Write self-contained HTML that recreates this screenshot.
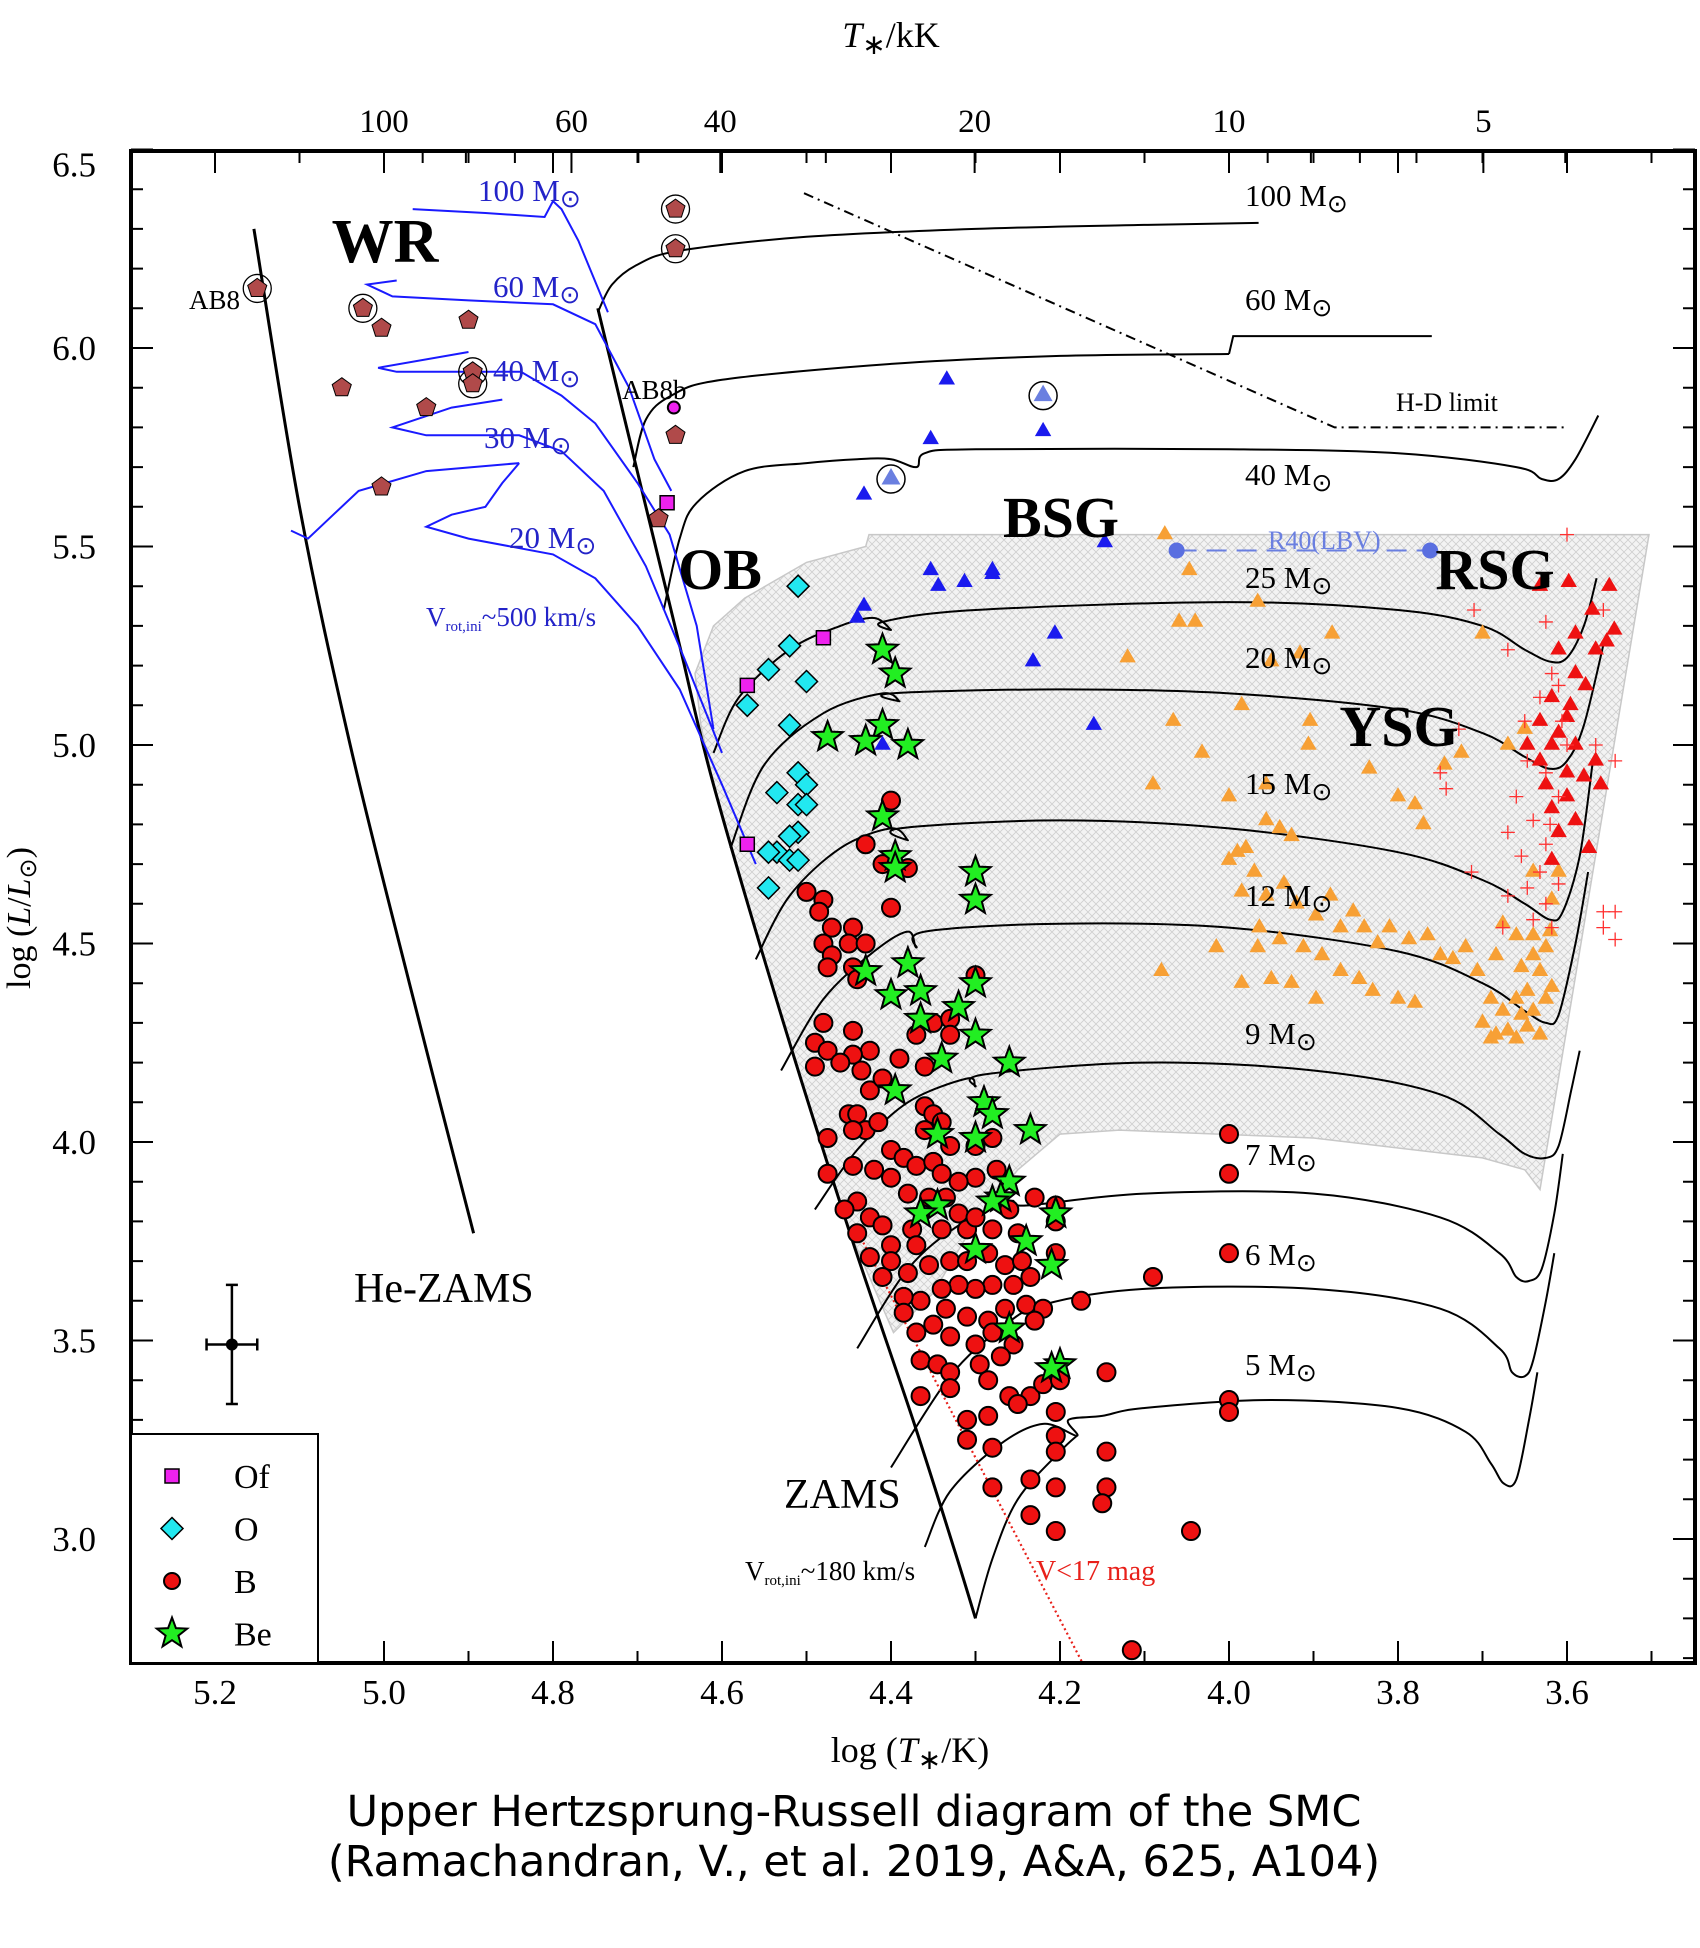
<!DOCTYPE html>
<html><head><meta charset="utf-8"><title>HRD SMC</title>
<style>
html,body{margin:0;padding:0;background:#fff;}
svg{display:block;}
text{font-family:"Liberation Serif",serif;}
.cap{font-family:"DejaVu Sans","Liberation Sans",sans-serif;}
</style></head>
<body>
<svg id="chart" width="1700" height="1948" viewBox="0 0 1700 1948" xmlns="http://www.w3.org/2000/svg">
<defs>
<pattern id="hatch" width="8" height="8" patternUnits="userSpaceOnUse">
<rect width="8" height="8" fill="#f3f3f3"/>
<path d="M0,0 L8,8 M8,0 L0,8" stroke="#cfcfcf" stroke-width="0.8"/>
</pattern>
<clipPath id="plotclip"><rect x="131" y="151" width="1564" height="1512"/></clipPath>
</defs>
<g id="hatchLayer" clip-path="url(#plotclip)"></g>
<g id="lines" clip-path="url(#plotclip)"></g>
<g id="marks" clip-path="url(#plotclip)"></g>
<g id="axes"></g>
<g id="labels">
<text x="891" y="47" font-size="36" text-anchor="middle"><tspan font-style="italic">T</tspan><tspan font-size="28" baseline-shift="-25%">∗</tspan>/kK</text>
<text x="910" y="1762" font-size="36" text-anchor="middle">log (<tspan font-style="italic">T</tspan><tspan font-size="28" baseline-shift="-25%">∗</tspan>/K)</text>
<text transform="translate(30,918) rotate(-90)" font-size="34" text-anchor="middle">log (<tspan font-style="italic">L</tspan>/<tspan font-style="italic">L</tspan><tspan font-size="24" baseline-shift="-25%">⊙</tspan>)</text>
<text class="cap" x="854" y="1826" font-size="43" text-anchor="middle">Upper Hertzsprung-Russell diagram of the SMC</text>
<text class="cap" x="854" y="1876" font-size="43" text-anchor="middle">(Ramachandran, V., et al. 2019, A&amp;A, 625, A104)</text>
<text x="385" y="262" font-size="62" font-weight="bold" text-anchor="middle">WR</text>
<text x="720" y="589" font-size="58" font-weight="bold" text-anchor="middle">OB</text>
<text x="1061" y="537" font-size="58" font-weight="bold" text-anchor="middle">BSG</text>
<text x="1495" y="589" font-size="58" font-weight="bold" text-anchor="middle">RSG</text>
<text x="1399" y="746" font-size="58" font-weight="bold" text-anchor="middle">YSG</text>
<g font-size="31">
<text x="1245" y="206">100 M<tspan font-size="25" baseline-shift="-25%">⊙</tspan></text>
<text x="1245" y="310">60 M<tspan font-size="25" baseline-shift="-25%">⊙</tspan></text>
<text x="1245" y="485">40 M<tspan font-size="25" baseline-shift="-25%">⊙</tspan></text>
<text x="1245" y="588">25 M<tspan font-size="25" baseline-shift="-25%">⊙</tspan></text>
<text x="1245" y="668">20 M<tspan font-size="25" baseline-shift="-25%">⊙</tspan></text>
<text x="1245" y="794">15 M<tspan font-size="25" baseline-shift="-25%">⊙</tspan></text>
<text x="1245" y="906">12 M<tspan font-size="25" baseline-shift="-25%">⊙</tspan></text>
<text x="1245" y="1044">9 M<tspan font-size="25" baseline-shift="-25%">⊙</tspan></text>
<text x="1245" y="1165">7 M<tspan font-size="25" baseline-shift="-25%">⊙</tspan></text>
<text x="1245" y="1265">6 M<tspan font-size="25" baseline-shift="-25%">⊙</tspan></text>
<text x="1245" y="1375">5 M<tspan font-size="25" baseline-shift="-25%">⊙</tspan></text>
</g>
<g font-size="31" fill="#2323c8">
<text x="478" y="201">100 M<tspan font-size="25" baseline-shift="-25%">⊙</tspan></text>
<text x="493" y="297">60 M<tspan font-size="25" baseline-shift="-25%">⊙</tspan></text>
<text x="493" y="381">40 M<tspan font-size="25" baseline-shift="-25%">⊙</tspan></text>
<text x="484" y="448">30 M<tspan font-size="25" baseline-shift="-25%">⊙</tspan></text>
<text x="509" y="548">20 M<tspan font-size="25" baseline-shift="-25%">⊙</tspan></text>
<text x="426" y="626" font-size="27">V<tspan font-size="15" baseline-shift="-30%">rot,ini</tspan>~500 km/s</text>
</g>
<text x="354" y="1302" font-size="42">He-ZAMS</text>
<text x="784" y="1508" font-size="42">ZAMS</text>
<text x="745" y="1580" font-size="27">V<tspan font-size="15" baseline-shift="-30%">rot,ini</tspan>~180 km/s</text>
<text x="1036" y="1580" font-size="28" fill="#e8201a">V&lt;17 mag</text>
<text x="240" y="309" font-size="27" text-anchor="end">AB8</text>
<text x="622" y="399" font-size="27">AB8b</text>
<text x="1396" y="411" font-size="26">H-D limit</text>
<text x="1268" y="549" font-size="26" fill="#6a7fe0">R40(LBV)</text>
</g>
<g id="legend">
<rect x="131" y="1434" width="187" height="229" fill="#fff" stroke="#000" stroke-width="2"/>
</g>
</svg>
<script>
// ---- data (log T, log L) ----
const xTicksMajor = [5.2, 5.0, 4.8, 4.6, 4.4, 4.2, 4.0, 3.8, 3.6];
const yTicksMajor = [3.0, 3.5, 4.0, 4.5, 5.0, 5.5, 6.0, 6.5];
const topTicksKK = [100, 60, 40, 20, 10, 5];
const topMinorKK = [90, 80, 70, 50, 30, 9, 8, 7, 6, 4];

const starsB = [[4.40,4.86],[4.50,4.63],[4.48,4.61],[4.485,4.58],[4.47,4.54],[4.445,4.54],[4.45,4.50],[4.48,4.50],[4.47,4.47],[4.475,4.44],[4.43,4.50],[4.40,4.59],[4.445,4.44],[4.44,4.41],[4.38,4.69],[4.43,4.75],[4.41,4.70],[4.30,4.42],
[4.48,4.30],[4.49,4.25],[4.475,4.23],[4.49,4.19],[4.445,4.28],[4.425,4.23],[4.445,4.22],[4.46,4.20],[4.435,4.18],[4.425,4.13],[4.41,4.16],[4.39,4.21],[4.37,4.27],[4.35,4.30],[4.33,4.31],[4.33,4.27],[4.36,4.19],[4.45,4.07],[4.44,4.07],[4.43,4.03],[4.445,4.03],[4.415,4.05],[4.475,4.01],[4.475,3.92],[4.445,3.94],[4.42,3.93],[4.40,3.98],[4.36,4.09],[4.35,4.07],[4.36,4.03],[4.34,4.05],[4.385,3.96],[4.37,3.94],[4.35,3.95],[4.34,3.92],[4.33,3.99],[4.30,3.99],[4.28,4.01],[4.275,3.93],[4.30,3.91],[4.32,3.90],[4.40,3.91],[4.38,3.87],[4.355,3.86],[4.335,3.86],[4.44,3.85],[4.455,3.83],[4.425,3.81],[4.41,3.79],[4.44,3.77],[4.40,3.74],[4.375,3.78],[4.37,3.74],[4.34,3.78],[4.32,3.82],[4.31,3.78],[4.30,3.81],[4.28,3.78],[4.26,3.83],[4.25,3.77],[4.23,3.86],[4.205,3.84],[4.205,3.80],[4.205,3.72],
[4.40,3.70],[4.38,3.67],[4.355,3.69],[4.33,3.70],[4.31,3.70],[4.285,3.72],[4.265,3.69],[4.245,3.70],[4.235,3.66],[4.255,3.64],[4.28,3.64],[4.30,3.63],[4.32,3.64],[4.34,3.63],[4.365,3.60],[4.385,3.61],[4.335,3.58],[4.31,3.56],[4.285,3.55],[4.265,3.58],[4.24,3.59],[4.22,3.58],[4.23,3.55],[4.35,3.54],[4.33,3.51],[4.30,3.49],[4.28,3.52],[4.255,3.49],[4.365,3.45],[4.345,3.44],[4.33,3.42],[4.295,3.44],[4.27,3.46],[4.285,3.40],[4.26,3.36],[4.235,3.36],[4.22,3.39],[4.20,3.40],[4.365,3.36],[4.31,3.30],[4.31,3.25],[4.285,3.31],[4.25,3.34],[4.205,3.32],[4.205,3.26],[4.205,3.22],[4.28,3.23],[4.235,3.15],[4.205,3.13],[4.28,3.13],[4.235,3.06],[4.205,3.02],[4.175,3.60],[4.145,3.42],[4.145,3.22],[4.145,3.13],[4.15,3.09],[4.09,3.66],[4.045,3.02],[4.115,2.72],[4.0,4.02],[4.0,3.92],[4.0,3.72],[4.0,3.35],[4.0,3.32],[4.425,3.71],[4.41,3.66],[4.385,3.57],[4.37,3.52],[4.33,3.38]];

const starsBe = [[4.41,5.24],[4.395,5.18],[4.475,5.02],[4.41,5.05],[4.43,5.01],[4.38,5.00],[4.41,4.82],[4.395,4.72],[4.395,4.69],[4.30,4.68],[4.30,4.61],[4.43,4.43],[4.38,4.45],[4.40,4.37],[4.365,4.38],[4.365,4.31],[4.32,4.34],[4.30,4.40],[4.30,4.27],[4.34,4.21],[4.26,4.20],[4.395,4.13],[4.29,4.10],[4.28,4.07],[4.345,4.02],[4.30,4.01],[4.235,4.03],[4.26,3.90],[4.27,3.86],[4.28,3.85],[4.345,3.84],[4.365,3.82],[4.205,3.82],[4.24,3.75],[4.30,3.73],[4.21,3.69],[4.26,3.53],[4.20,3.44],[4.21,3.43]];

const starsO = [[4.51,5.40],[4.52,5.25],[4.545,5.19],[4.57,5.10],[4.50,5.16],[4.52,5.05],[4.51,4.93],[4.50,4.90],[4.535,4.88],[4.51,4.85],[4.50,4.85],[4.51,4.78],[4.52,4.77],[4.535,4.73],[4.545,4.73],[4.52,4.71],[4.51,4.71],[4.545,4.64]];

const starsOf = [[4.665,5.61],[4.57,5.15],[4.48,5.27],[4.57,4.75]];
const starAB8b = [[4.657,5.85]];

const starsWR = [[5.15,6.15],[5.025,6.10],[5.003,6.05],[4.90,6.07],[4.895,5.94],[4.895,5.91],[5.05,5.90],[4.95,5.85],[5.003,5.65],[4.655,6.35],[4.655,6.25],[4.655,5.78],[4.675,5.57]];
const circledWR = [[5.15,6.15],[5.025,6.10],[4.895,5.94],[4.895,5.91],[4.655,6.35],[4.655,6.25]];

const starsBSG = [[4.334,5.92],[4.22,5.88],[4.22,5.79],[4.353,5.77],[4.40,5.67],[4.432,5.63],[4.147,5.51],[4.353,5.44],[4.344,5.40],[4.313,5.41],[4.28,5.44],[4.28,5.43],[4.432,5.35],[4.44,5.32],[4.206,5.28],[4.232,5.21],[4.16,5.05],[4.41,5.00]];
const circledBSG = [[4.22,5.88],[4.40,5.67]];
const lbvR40 = [[4.062,5.49],[3.762,5.49]];

const starsYSG = [[4.076,5.53],[4.047,5.44],[3.966,5.36],[4.059,5.31],[4.04,5.31],[4.12,5.22],[3.916,5.23],[3.878,5.28],[3.95,5.21],[4.066,5.06],[3.985,5.10],[3.904,5.06],[3.834,4.94],[3.906,5.00],[4.09,4.90],[4.032,4.98],[3.80,4.87],[3.78,4.85],[3.77,4.80],[3.745,4.95],[3.725,4.98],[3.70,5.28],[3.67,5.00],[3.65,5.04],[3.99,4.73],[4.0,4.71],[3.98,4.74],[3.956,4.81],[3.94,4.79],[3.926,4.77],[3.97,4.68],[3.985,4.63],[3.956,4.62],[3.935,4.65],[3.92,4.60],[3.897,4.57],[3.88,4.62],[3.868,4.54],[3.853,4.58],[3.84,4.54],[3.824,4.50],[3.81,4.54],[3.787,4.51],[3.765,4.52],[3.75,4.47],[3.735,4.46],[3.72,4.49],[3.964,4.54],[3.94,4.51],[3.912,4.49],[3.89,4.47],[3.868,4.43],[3.846,4.41],[3.83,4.38],[3.80,4.36],[3.78,4.35],[3.926,4.40],[3.95,4.41],[3.897,4.36],[3.706,4.43],[3.684,4.47],[3.676,4.55],[3.66,4.52],[3.654,4.44],[3.64,4.47],[3.632,4.43],[3.625,4.49],[3.69,4.36],[3.676,4.33],[3.66,4.36],[3.647,4.38],[3.70,4.30],[3.684,4.27],[3.67,4.28],[3.654,4.32],[3.64,4.33],[3.632,4.27],[3.69,4.26],[3.66,4.26],[3.647,4.29],[3.625,4.36],[3.618,4.39],[3.62,4.53],[3.618,4.61],[3.61,4.68],[3.64,4.52],[3.64,4.68],[3.956,4.90],[4.0,4.87],[4.08,4.43],[4.015,4.49],[3.985,4.40],[3.966,4.49]];

const starsRSGtri = [[3.598,5.41],[3.55,5.40],[3.632,5.40],[3.57,5.34],[3.544,5.29],[3.59,5.28],[3.566,5.24],[3.61,5.24],[3.59,5.18],[3.578,5.15],[3.618,5.12],[3.596,5.10],[3.60,5.07],[3.632,5.06],[3.61,5.03],[3.618,5.00],[3.59,5.00],[3.632,4.96],[3.60,4.93],[3.58,4.92],[3.625,4.90],[3.60,4.87],[3.618,4.84],[3.59,4.81],[3.61,4.78],[3.574,4.74],[3.618,4.71],[3.566,4.96],[3.56,4.90],[3.647,5.00],[3.553,5.26]];

const starsRSGcross = [[3.60,5.53],[3.557,5.34],[3.71,5.34],[3.67,5.24],[3.625,5.31],[3.618,5.18],[3.61,5.15],[3.632,5.12],[3.606,5.06],[3.647,4.96],[3.625,4.93],[3.66,4.87],[3.61,4.87],[3.64,4.81],[3.67,4.78],[3.625,4.75],[3.654,4.72],[3.632,4.68],[3.61,4.65],[3.647,4.64],[3.67,4.62],[3.625,4.60],[3.64,4.56],[3.676,4.54],[3.618,4.54],[3.557,4.58],[3.543,4.58],[3.557,4.54],[3.543,4.51],[3.543,4.96],[3.566,5.00],[3.713,4.68],[3.743,4.89],[3.75,4.93],[3.728,5.04],[3.65,5.06],[3.60,5.00],[3.62,4.80]];

const errorPoint = [5.18, 3.49];
const errorX = 0.03;
const errorY = 0.15;

// tracks
const zams = [[4.747,6.10],[4.69,5.60],[4.65,5.25],[4.61,4.90],[4.53,4.32],[4.45,3.78],[4.374,3.30],[4.326,2.98],[4.30,2.80]];
const zamsTail = [[4.30,2.80],[4.28,2.95],[4.25,3.10],[4.20,3.22],[4.18,3.26]];
const heZams = [[5.154,6.30],[5.10,5.60],[5.04,5.0],[4.97,4.40],[4.894,3.77]];
const track100 = [[4.747,6.09],[4.73,6.16],[4.70,6.21],[4.65,6.245],[4.5,6.28],[4.3,6.30],[4.1,6.31],[3.965,6.315]];
const track60a = [[4.705,5.70],[4.69,5.82],[4.66,5.88],[4.6,5.92],[4.4,5.96],[4.2,5.98],[4.0,5.985]];
const track60b = [[4.0,5.985],[3.995,6.03],[3.76,6.03]];
const track40 = [[4.669,5.34],[4.65,5.52],[4.63,5.61],[4.573,5.69],[4.5,5.71],[4.44,5.72],[4.40,5.72],[4.37,5.70],[4.36,5.735],[4.3,5.745],[4.0,5.745],[3.8,5.735],[3.66,5.70],[3.63,5.67],[3.61,5.67],[3.59,5.72],[3.563,5.83]];
const track25 = [[4.61,4.98],[4.58,5.12],[4.52,5.24],[4.46,5.30],[4.42,5.32],[4.40,5.29],[4.41,5.31],[4.3,5.34],[4.0,5.36],[3.8,5.34],[3.7,5.30],[3.65,5.24],[3.62,5.21],[3.60,5.22],[3.58,5.30],[3.565,5.42]];
const track20 = [[4.59,4.74],[4.55,4.95],[4.48,5.08],[4.41,5.13],[4.39,5.11],[4.40,5.13],[4.2,5.14],[4.0,5.13],[3.8,5.09],[3.70,5.03],[3.65,4.97],[3.62,4.94],[3.60,4.96],[3.58,5.05],[3.555,5.27]];
const track15 = [[4.56,4.46],[4.52,4.62],[4.46,4.74],[4.40,4.79],[4.38,4.76],[4.39,4.79],[4.2,4.81],[4.0,4.79],[3.8,4.73],[3.70,4.66],[3.65,4.60],[3.62,4.56],[3.605,4.58],[3.585,4.72],[3.57,4.95]];
const track12 = [[4.53,4.18],[4.48,4.36],[4.42,4.48],[4.38,4.53],[4.37,4.49],[4.36,4.53],[4.2,4.55],[4.0,4.54],[3.8,4.48],[3.70,4.40],[3.65,4.33],[3.625,4.30],[3.61,4.32],[3.59,4.50],[3.575,4.68]];
const track9 = [[4.49,3.83],[4.44,3.98],[4.38,4.10],[4.31,4.16],[4.30,4.14],[4.29,4.17],[4.1,4.20],[3.9,4.18],[3.75,4.12],[3.68,4.02],[3.65,3.97],[3.625,3.96],[3.61,3.99],[3.595,4.13],[3.585,4.23]];
const track7 = [[4.44,3.48],[4.38,3.68],[4.32,3.79],[4.26,3.85],[4.24,3.84],[4.1,3.87],[3.9,3.87],[3.75,3.81],[3.68,3.72],[3.66,3.66],[3.645,3.65],[3.63,3.68],[3.615,3.82],[3.605,3.97]];
const track6 = [[4.40,3.18],[4.33,3.41],[4.27,3.53],[4.22,3.59],[4.1,3.63],[3.9,3.63],[3.75,3.58],[3.68,3.48],[3.665,3.42],[3.65,3.41],[3.64,3.45],[3.625,3.60],[3.615,3.72]];
const track5 = [[4.36,2.98],[4.33,3.12],[4.27,3.24],[4.22,3.29],[4.18,3.26],[4.19,3.30],[4.15,3.31],[4.1,3.33],[3.95,3.35],[3.8,3.33],[3.72,3.27],[3.69,3.19],[3.675,3.14],[3.66,3.15],[3.645,3.30],[3.635,3.42]];

const rot100 = [[4.966,6.35],[4.88,6.34],[4.81,6.33],[4.80,6.37],[4.79,6.35],[4.77,6.27],[4.735,6.09]];
const rot60 = [[4.985,6.17],[5.02,6.16],[4.99,6.13],[4.9,6.12],[4.8,6.11],[4.75,6.06],[4.71,5.90],[4.68,5.72],[4.66,5.64]];
const rot40 = [[4.90,5.99],[5.007,5.95],[4.985,5.94],[4.90,5.94],[4.838,5.94],[4.79,5.88],[4.75,5.81],[4.70,5.66],[4.662,5.53],[4.63,5.30],[4.61,5.04]];
const rot30 = [[4.86,5.87],[4.92,5.85],[4.99,5.80],[4.95,5.78],[4.84,5.78],[4.79,5.74],[4.74,5.64],[4.69,5.45],[4.645,5.22],[4.60,4.98]];
const rot20a = [[5.11,5.54],[5.09,5.52],[5.06,5.58],[5.03,5.64],[4.95,5.69],[4.84,5.71]];
const rot20b = [[4.84,5.71],[4.86,5.66],[4.88,5.60],[4.92,5.58],[4.95,5.55],[4.90,5.52],[4.80,5.48],[4.75,5.42],[4.70,5.30],[4.65,5.14],[4.60,4.90],[4.56,4.70]];

const hdLimit = [[4.503,6.39],[3.875,5.80],[3.60,5.80]];
const vLimit = [[4.441,3.78],[4.169,2.67]];
const hatchRegion = [[4.426,5.53],[3.503,5.53],[3.632,3.88],[3.65,3.93],[3.70,3.96],[3.9,4.01],[4.13,4.03],[4.2,4.02],[4.25,3.93],[4.30,3.80],[4.35,3.62],[4.397,3.52],[4.45,3.78],[4.53,4.32],[4.61,4.90],[4.625,5.05],[4.632,5.18],[4.61,5.30],[4.573,5.37],[4.50,5.46],[4.43,5.50]];

// ---- axis functions ----
function X(t){ return 1567 - (t - 3.6) * 845; }
function Y(l){ return 348 - (l - 6.0) * 397; }
const NS = "http://www.w3.org/2000/svg";
function mk(tag, attrs, parent){
  const e = document.createElementNS(NS, tag);
  for (const k in attrs) e.setAttribute(k, attrs[k]);
  parent.appendChild(e);
  return e;
}
const gH = document.getElementById('hatchLayer');
const gL = document.getElementById('lines');
const gM = document.getElementById('marks');
const gA = document.getElementById('axes');
const gLeg = document.getElementById('legend');

function pathD(pts){ return pts.map((p,i)=>(i?'L':'M')+X(p[0]).toFixed(1)+','+Y(p[1]).toFixed(1)).join(' '); }
function smoothD(pts){
  const P = pts.map(p=>[X(p[0]),Y(p[1])]);
  let d = 'M'+P[0][0].toFixed(1)+','+P[0][1].toFixed(1);
  for (let i=0;i<P.length-1;i++){
    const p0=P[i-1]||P[i], p1=P[i], p2=P[i+1], p3=P[i+2]||P[i+1];
    const c1=[p1[0]+(p2[0]-p0[0])/6, p1[1]+(p2[1]-p0[1])/6];
    const c2=[p2[0]-(p3[0]-p1[0])/6, p2[1]-(p3[1]-p1[1])/6];
    d+=' C'+c1[0].toFixed(1)+','+c1[1].toFixed(1)+' '+c2[0].toFixed(1)+','+c2[1].toFixed(1)+' '+p2[0].toFixed(1)+','+p2[1].toFixed(1);
  }
  return d;
}

// hatch
const hr = mk('path', {d: pathD(hatchRegion)+' Z', fill:'url(#hatch)', stroke:'#c8c8c8', 'stroke-width':1.5}, gH);



function drawLine(pts, name, stroke, w, dash, smooth){
  const p = mk('path', {d: smooth ? smoothD(pts) : pathD(pts), fill:'none', stroke: stroke, 'stroke-width': w}, gL);
  if (dash) p.setAttribute('stroke-dasharray', dash);
  
  
  return p;
}
drawLine(zams, 'zams-line', '#000', 3, null, true);
drawLine(zamsTail, 'zams-tail-line', '#000', 2, null, true);
drawLine(heZams, 'he-zams-line', '#000', 3, null, true);
const tracks = [[track100,'track-100'],[track60a,'track-60'],[track40,'track-40'],[track25,'track-25'],[track20,'track-20'],[track15,'track-15'],[track12,'track-12'],[track9,'track-9'],[track7,'track-7'],[track6,'track-6'],[track5,'track-5']];
tracks.forEach(t=>drawLine(t[0], t[1]+'-msun', '#000', 2, null, true));
drawLine(track60b, 'track-60-msun-end', '#000', 2, null, false);
const rtracks = [[rot100,'rot-track-100'],[rot60,'rot-track-60'],[rot40,'rot-track-40'],[rot30,'rot-track-30'],[rot20a,'rot-track-20a'],[rot20b,'rot-track-20b']];
rtracks.forEach(t=>drawLine(t[0], t[1], '#1a1aff', 2, null, false));
drawLine(hdLimit, 'hd-limit-line', '#000', 2, '10,5,2,5', false);
drawLine(vLimit, 'v17-limit-line', '#e8201a', 2.2, '2,3', false);
drawLine(lbvR40, 'r40-lbv-line', '#6a7fe0', 2, '20,10', false);

// markers
function circleM(t,l,name,fill,r){ const e = mk('circle',{cx:X(t),cy:Y(l),r:r,fill:fill,stroke:'#000','stroke-width':2},gM);   return e; }
function polyM(cx,cy,pts,name,fill,sw,parent){ const e = mk('polygon',{points:pts.map(p=>(cx+p[0]).toFixed(1)+','+(cy+p[1]).toFixed(1)).join(' '),fill:fill,stroke:'#000','stroke-width':sw},parent||gM);   return e; }
function starShape(R){ const a=[]; for(let i=0;i<10;i++){ const r=i%2?R*0.42:R; const ang=-Math.PI/2+i*Math.PI/5; a.push([r*Math.cos(ang), r*Math.sin(ang)]);} return a; }
function regShape(n,R,rot){ const a=[]; for(let i=0;i<n;i++){ const ang=rot+i*2*Math.PI/n; a.push([R*Math.cos(ang),R*Math.sin(ang)]);} return a; }
const STAR = starShape(16), DIAM = regShape(4,11,-Math.PI/2), SQ = [[-7,-7],[7,-7],[7,7],[-7,7]], TRI = regShape(3,9.5,-Math.PI/2), PENT = regShape(5,10,-Math.PI/2), BIGTRI = regShape(3,11,-Math.PI/2);

starsB.forEach(p=>circleM(p[0],p[1],'b-star','#ee1111',9));
starsBe.forEach(p=>polyM(X(p[0]),Y(p[1]),STAR,'be-star','#22ee22',2));
starsO.forEach(p=>polyM(X(p[0]),Y(p[1]),DIAM,'o-star','#22e8f0',1.5));
starsOf.forEach(p=>polyM(X(p[0]),Y(p[1]),SQ,'of-star','#ee22ee',1.5));
starAB8b.forEach(p=>circleM(p[0],p[1],'ab8b-star','#ee22ee',6));
circledWR.forEach(p=>{ const c = mk('circle',{cx:X(p[0]),cy:Y(p[1]),r:14,fill:'none',stroke:'#000','stroke-width':1.3},gM);   });
starsWR.forEach(p=>polyM(X(p[0]),Y(p[1]),PENT,'wr-star','#b04a4a',1));
circledBSG.forEach(p=>{ const c = mk('circle',{cx:X(p[0]),cy:Y(p[1]),r:14,fill:'none',stroke:'#000','stroke-width':1.5},gM);   });
starsBSG.forEach((p,i)=>{ const e = polyM(X(p[0]),Y(p[1]), (i===1||i===4)?BIGTRI:TRI,'bsg-star',(i===1||i===4)?'#6a7fe0':'#1a1aee',0); e.setAttribute('stroke','none'); });
lbvR40.forEach(p=>{ const c = mk('circle',{cx:X(p[0]),cy:Y(p[1]),r:8,fill:'#5a6fe0'},gM);   });
starsYSG.forEach(p=>{ const e = polyM(X(p[0]),Y(p[1]),TRI,'ysg-star','#f7a035',0); e.setAttribute('stroke','none'); });
starsRSGtri.forEach(p=>{ const e = polyM(X(p[0]),Y(p[1]),TRI,'rsg-star','#ee1111',0); e.setAttribute('stroke','none'); });
starsRSGcross.forEach(p=>{ const g = mk('path',{d:'M'+(X(p[0])-7)+','+Y(p[1])+' h14 M'+X(p[0])+','+(Y(p[1])-7)+' v14',stroke:'#ff3030','stroke-width':1.3,fill:'none'},gM);   });

// error bar
const eb = mk('path',{d:'M'+X(errorPoint[0]-errorX)+','+Y(errorPoint[1])+' H'+X(errorPoint[0]+errorX)+' M'+X(errorPoint[0])+','+Y(errorPoint[1]+errorY)+' V'+Y(errorPoint[1]-errorY)+' M'+(X(errorPoint[0])-6)+','+Y(errorPoint[1]+errorY)+' h12 M'+(X(errorPoint[0])-6)+','+Y(errorPoint[1]-errorY)+' h12 M'+X(errorPoint[0]-errorX)+','+(Y(errorPoint[1])-6)+' v12 M'+X(errorPoint[0]+errorX)+','+(Y(errorPoint[1])-6)+' v12',stroke:'#000','stroke-width':2.5,fill:'none'},gA);


const ebd = mk('circle',{cx:X(errorPoint[0]),cy:Y(errorPoint[1]),r:6,fill:'#000'},gA);



// frame & ticks
const fr = mk('rect',{x:131,y:151,width:1564,height:1512,fill:'none',stroke:'#000','stroke-width':4},gA);


for (let v=3.5; v<=5.31; v+=0.1){
  const big = Math.abs(v*5 - Math.round(v*5))<0.01;
  const len = big?22:12;
  const t1 = mk('path',{d:'M'+X(v)+',1663 v'+(-len)+' M'+X(v)+',151 v'+len,stroke:'#000','stroke-width':2},gA);
  
  
}
xTicksMajor.forEach(v=>{
  const t = mk('text',{x:X(v),y:1704,'font-size':35,'text-anchor':'middle'},gA);
  t.textContent = v.toFixed(1);
  
  
});
for (let v=2.7; v<=6.51; v+=0.1){
  const big = Math.abs(v*2 - Math.round(v*2))<0.01;
  const len = big?22:12;
  const t1 = mk('path',{d:'M131,'+Y(v)+' h'+len+' M1695,'+Y(v)+' h'+(-len),stroke:'#000','stroke-width':2},gA);
  
  
}
yTicksMajor.forEach(v=>{
  const t = mk('text',{x:96,y:Y(v)+12+(v>6.4?15:0),'font-size':35,'text-anchor':'end'},gA);
  t.textContent = v.toFixed(1);
  
  
});
topTicksKK.forEach(k=>{
  const x = X(Math.log10(k*1000));
  const tk = mk('path',{d:'M'+x+',151 v22',stroke:'#000','stroke-width':2},gA);
  
  
  const t = mk('text',{x:x,y:132,'font-size':33,'text-anchor':'middle'},gA);
  t.textContent = String(k);
  
  
});
topMinorKK.forEach(k=>{
  const x = X(Math.log10(k*1000));
  if (x<131||x>1695) return;
  const tk = mk('path',{d:'M'+x+',151 v12',stroke:'#000','stroke-width':2},gA);
  
  
});

// legend
const legItems = [['Of','square'],['O','diamond'],['B','circle'],['Be','star']];
legItems.forEach((it,i)=>{
  const y = 1476 + i*52.5, x = 172;
  let m;
  if (it[1]==='square') m = polyM(x,y,SQ,'legend-marker-of','#ee22ee',1.5,gLeg);
  else if (it[1]==='diamond') m = polyM(x,y,DIAM,'legend-marker-o','#22e8f0',1.5,gLeg);
  else if (it[1]==='circle'){ m = mk('circle',{cx:x,cy:y,r:8,fill:'#ee1111',stroke:'#000','stroke-width':2},gLeg);   }
  else m = polyM(x,y,STAR,'legend-marker-be','#22ee22',2,gLeg);
  const t = mk('text',{x:234,y:y+12,'font-size':34},gLeg);
  t.textContent = it[0];
  
  
});
</script>
</body></html>
